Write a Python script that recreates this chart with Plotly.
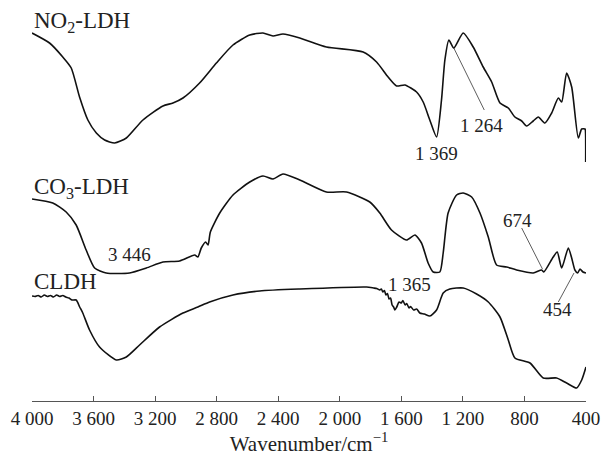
import plotly.graph_objects as go

# ---- data (wavenumber in cm^-1, transmittance in arbitrary offset units) ----
no2_wn = [4000, 3886, 3800, 3745, 3691, 3637, 3582, 3528, 3463, 3387, 3279, 3149, 3084, 3019,
          2911, 2802, 2694, 2585, 2499, 2434, 2369, 2260, 2087, 1848, 1761, 1686, 1631, 1577,
          1501, 1458, 1415, 1371, 1339, 1317, 1291, 1259, 1198, 1133, 1068, 1013, 959, 905,
          862, 818, 786, 743, 710, 667, 623, 580, 558, 526, 493, 450, 428, 407, 404, 402]
no2_t = [368, 358, 344, 333, 304, 281, 268, 261, 258, 263, 281, 295, 298, 303,
         318, 338, 356, 366, 368, 365, 367, 363, 354, 349, 339, 324, 315, 316,
         309, 299, 281, 264, 301, 341, 361, 353, 368, 354, 334, 319, 298, 293,
         284, 280, 275, 280, 284, 278, 288, 303, 299, 328, 314, 263, 272, 272, 271, 239]

co3_wn = [4000, 3865, 3778, 3713, 3648, 3593, 3518, 3366, 3257, 3149, 3041, 2943, 2922, 2900,
          2872, 2856, 2841, 2780, 2694, 2585, 2499, 2434, 2369, 2260, 2087, 1956, 1805, 1740,
          1664, 1566, 1512, 1469, 1426, 1393, 1350, 1328, 1296, 1241, 1198, 1143, 1089, 1035,
          981, 916, 851, 743, 688, 674, 613, 587, 558, 515, 493, 472, 454, 439, 420, 400]
co3_t = [202, 198, 189, 176, 151, 133, 128, 128, 133, 139, 140, 146, 144, 153,
         159, 156, 169, 188, 206, 219, 225, 222, 227, 221, 209, 209, 199, 188,
         171, 161, 166, 158, 138, 129, 129, 148, 188, 206, 208, 204, 188, 164,
         136, 134, 131, 128, 131, 129, 144, 149, 133, 153, 143, 131, 128, 132, 129, 128]

cldh_wn = [4000, 3980, 3960, 3940, 3920, 3900, 3880, 3860, 3840, 3820, 3800, 3780, 3760, 3740,
           3713, 3690, 3670, 3626, 3561, 3452, 3387, 3301, 3171, 3019, 2922, 2846, 2694, 2520,
           2260, 1826, 1780, 1760, 1740, 1730, 1720, 1710, 1700, 1690, 1680, 1670, 1660, 1650,
           1642, 1630, 1615, 1600, 1590, 1575, 1565, 1550, 1540, 1520, 1500, 1480, 1450, 1415,
           1371, 1328, 1285, 1198, 1111, 1035, 959, 905, 862, 764, 678, 591, 526, 461, 428, 400]
cldh_t = [105, 104.5, 105.5, 104, 106, 104.5, 105.5, 104, 106, 104.5, 105.5, 104, 103, 101,
          101, 94, 88, 71, 54, 41, 44, 56, 74, 88, 94, 99, 106, 110,
          112, 114, 113, 112.5, 111, 112, 109, 110.5, 106, 107.5, 102, 103, 96, 94,
          91, 94, 99, 98, 100.5, 96, 97.5, 93, 94.5, 91, 92, 88, 87, 85,
          91, 108, 112, 113, 107, 99, 84, 61, 43, 38, 23, 23, 18, 13, 21, 34]

tick_vals = [4000, 3600, 3200, 2800, 2400, 2000, 1600, 1200, 800, 400]
tick_text = ["4 000", "3 600", "3 200", "2 800", "2 400", "2 000", "1 600", "1 200", "800", "400"]

FONT = "Liberation Serif, Times New Roman, serif"

fig = go.Figure()
for wn, t in [(no2_wn, no2_t), (co3_wn, co3_t), (cldh_wn, cldh_t)]:
    fig.add_trace(go.Scatter(x=wn, y=t, mode="lines",
                             line=dict(color="#111111", width=1.6, shape="spline", smoothing=0.6),
                             showlegend=False, hoverinfo="skip"))

# text labels
labels = [
    (4000, 379, "NO<sub>2</sub>-LDH", 23, "left"),
    (4000, 213, "CO<sub>3</sub>-LDH", 23, "left"),
    (4000, 120, "CLDH", 23, "left"),
    (3369, 147, "3 446", 19, "center"),
    (1369, 248, "1 369", 19, "center"),
    (1076, 276, "1 264", 19, "center"),
    (1545, 117, "1 365", 19, "center"),
    (846, 181, "674", 19, "center"),
    (585, 92, "454", 19, "center"),
]
for x, y, txt, size, anchor in labels:
    fig.add_annotation(x=x, y=y, xref="x", yref="y", text=txt, showarrow=False,
                       xanchor=anchor, yanchor="middle",
                       font=dict(family=FONT, size=size, color="#222222"))

# leader lines
leaders = [((1259, 353), (1061, 291)),
           ((818, 173), (683, 132)),
           ((580, 99), (478, 128))]
for (x0, y0), (x1, y1) in leaders:
    fig.add_shape(type="line", xref="x", yref="y", x0=x0, y0=y0, x1=x1, y1=y1,
                  line=dict(color="#333333", width=0.8))

fig.update_xaxes(range=[4000, 400], tickvals=tick_vals, ticktext=tick_text,
                 showline=True, linecolor="#555555", linewidth=1.2,
                 ticks="inside", ticklen=5, tickcolor="#555555", tickwidth=1.2,
                 showgrid=False, zeroline=False,
                 tickfont=dict(family=FONT, size=19, color="#222222"),
                 title=dict(text="Wavenumber/cm<sup>\u22121</sup>",
                            font=dict(family=FONT, size=21, color="#222222"), standoff=4))
fig.update_yaxes(range=[0, 401], visible=False, showgrid=False, zeroline=False)

fig.update_layout(width=602, height=458, margin=dict(l=32, r=16, t=0, b=57),
                  plot_bgcolor="white", paper_bgcolor="white")

fig.write_html("out.html")
